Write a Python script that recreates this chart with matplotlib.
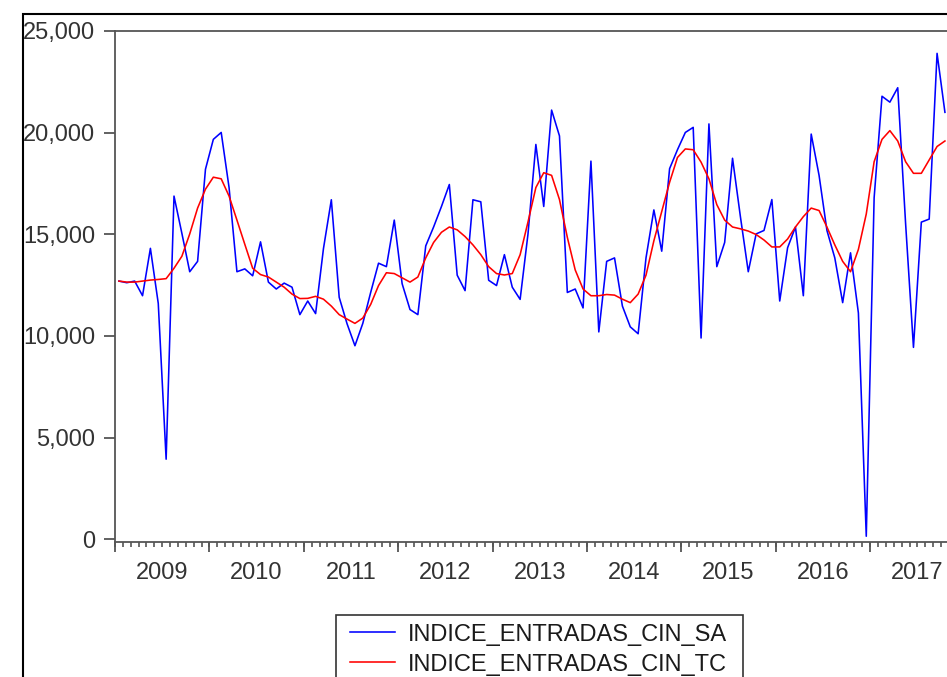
import matplotlib
matplotlib.use("Agg")
import matplotlib.pyplot as plt
from matplotlib.patches import Rectangle
from matplotlib.ticker import FuncFormatter, FixedLocator

plt.rcParams['font.family'] = ['Liberation Sans', 'DejaVu Sans']

# ---- data (monthly, starting January 2009) ----
start_year = 2009
sa_values = [
    12700, 12620, 12700, 11980, 14310, 11600, 3940, 16880, 15050, 13160, 13670, 18200,
    19670, 20010, 17300, 13160, 13300, 12960, 14630, 12650, 12310, 12600, 12400, 11050,
    11720, 11100, 14300, 16700, 11900, 10600, 9520, 10620, 12140, 13580, 13410, 15700,
    12570, 11300, 11050, 14430, 15360, 16370, 17450, 12990, 12230, 16700, 16600, 12740,
    12480, 14000, 12400, 11800, 15020, 19420, 16370, 21110, 19840, 12140, 12310, 11380,
    18600, 10200, 13670, 13840, 11470, 10450, 10110, 13840, 16200, 14170, 18230, 19160,
    20010, 20260, 9900, 20430, 13410, 14600, 18740, 15870, 13160, 15020, 15190, 16710,
    11720, 14340, 15360, 11980, 19930, 17900, 15190, 13840, 11640, 14090, 11130, 150,
    16800, 21790, 21500, 22210, 15530, 9440, 15600, 15750, 23900, 21000,
]
tc_values = [
    12700, 12650, 12650, 12700, 12750, 12780, 12820, 13330, 13920, 15020, 16290, 17220,
    17810, 17730, 16880, 15700, 14510, 13330, 13020, 12900, 12650, 12400, 12060, 11840,
    11850, 11950, 11810, 11470, 11050, 10830, 10620, 10880, 11550, 12480, 13110, 13070,
    12860, 12650, 12900, 13840, 14600, 15100, 15360, 15220, 14890, 14480, 14000, 13410,
    13070, 13000, 13070, 14000, 15610, 17300, 18030, 17900, 16710, 14850, 13250, 12310,
    11980, 11980, 12040, 12010, 11810, 11640, 12060, 12990, 14680, 16120, 17560, 18780,
    19200, 19160, 18550, 17730, 16460, 15700, 15360, 15270, 15160, 14990, 14720, 14380,
    14380, 14770, 15360, 15870, 16290, 16170, 15360, 14480, 13670, 13160, 14260, 16000,
    18570, 19670, 20100, 19590, 18570, 18000, 18000, 18660, 19320, 19590,
]
year_labels = ['2009', '2010', '2011', '2012', '2013', '2014', '2015', '2016', '2017']
series_names = ['INDICE_ENTRADAS_CIN_SA', 'INDICE_ENTRADAS_CIN_TC']
y_ticks = [0, 5000, 10000, 15000, 20000, 25000]

# monthly observations plotted at the middle of each month
x_vals = [start_year + (i + 0.5) / 12 for i in range(len(sa_values))]

W, H = 947, 677
fig = plt.figure(figsize=(W / 100, H / 100), dpi=100)
fig.patch.set_facecolor('white')

left_px, right_px, top_px, bottom_px = 115, 964.6, 31, 541.7
ax = fig.add_axes([left_px / W, 1 - bottom_px / H,
                   (right_px - left_px) / W, (bottom_px - top_px) / H])

l_sa, = ax.plot(x_vals, sa_values, color='#0000ff', lw=1.15)
l_tc, = ax.plot(x_vals, tc_values, color='#ff0000', lw=1.15)

ax.set_xlim(2009, 2018)
ax.set_ylim(-118, 25000)

spine_col = '#555555'
for s in ['left', 'bottom', 'top']:
    ax.spines[s].set_color(spine_col)
    ax.spines[s].set_linewidth(1.3)
ax.spines['right'].set_visible(False)

ax.set_yticks(y_ticks)
ax.yaxis.set_major_formatter(FuncFormatter(lambda v, p: f"{int(v):,}"))
ax.tick_params(axis='y', direction='out', length=7.9, width=1.3, color=spine_col,
               labelsize=17, pad=6.5, labelcolor='#333333')

year_starts = [2009 + k for k in range(10)]
ax.xaxis.set_major_locator(FixedLocator(year_starts))
ax.xaxis.set_minor_locator(FixedLocator([2009 + m / 12 for m in range(9 * 12 + 1)]))
ax.xaxis.remove_overlapping_locs = False
ax.tick_params(axis='x', which='major', direction='out', length=7.5, width=1.3,
               color=spine_col, labelbottom=False)
ax.tick_params(axis='x', which='minor', direction='out', length=3.5, width=1.2,
               color=spine_col, bottom=True)

sec = ax.secondary_xaxis('bottom')
sec.set_xticks([2009.5 + k for k in range(len(year_labels))], labels=year_labels)
sec.tick_params(length=0, pad=14.5, labelsize=17, labelcolor='#333333')
sec.spines['bottom'].set_visible(False)

# outer graph frame
fig.add_artist(Rectangle((22.7 / W, -0.5), 2.0, 1.5 - 14 / H,
                         transform=fig.transFigure, fill=False,
                         edgecolor='black', lw=1.5))

# legend frame and legend
fig.add_artist(Rectangle((336 / W, -0.5), (742.7 - 336) / W, 0.5 + (1 - 615 / H),
                         transform=fig.transFigure, fill=False,
                         edgecolor='#333333', lw=1.2))
fig.legend([l_sa, l_tc], series_names, loc='upper left',
           bbox_to_anchor=(350 / W, 1 - 623.5 / H), bbox_transform=fig.transFigure,
           frameon=False, borderpad=0, borderaxespad=0, fontsize=17,
           handlelength=1.9, handletextpad=0.55, labelspacing=0.34,
           labelcolor='#1a1a1a')

fig.savefig('out.png', dpi=100)
